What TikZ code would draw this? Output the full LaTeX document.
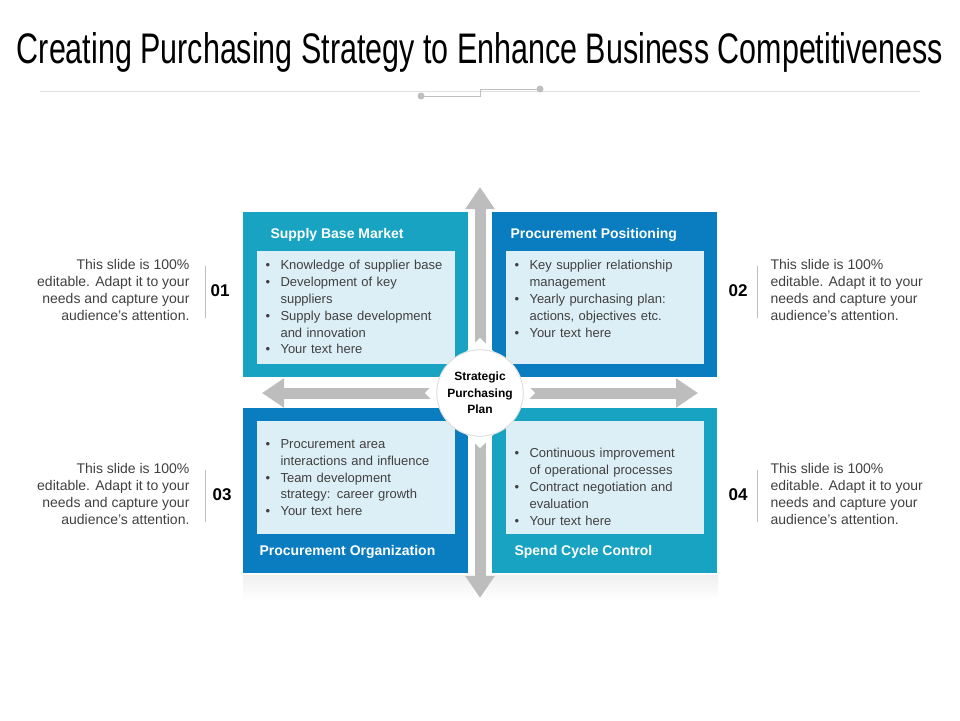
\documentclass[tikz,border=0pt]{standalone}
\usepackage{fontspec}
\setmainfont{Liberation Sans}
\usetikzlibrary{arrows.meta}
\definecolor{teal1}{HTML}{17A3C1}
\definecolor{blue1}{HTML}{0A7DC0}
\definecolor{pale}{HTML}{DDEFF6}
\definecolor{arr}{HTML}{BDBDBD}
\begin{document}
\begin{tikzpicture}[x=1pt,y=-1pt,
  quad/.style={minimum width=225pt,minimum height=165pt,anchor=north west,inner sep=0},
  inner/.style={fill=pale,minimum width=198pt,minimum height=113pt,anchor=north west,inner sep=0},
  hdr/.style={text=white,font=\fontsize{14}{16}\selectfont\bfseries,anchor=west},
  body/.style={font=\fontsize{13}{16.8}\selectfont,text=black!75,anchor=north west,text width=195pt,align=left},
  side/.style={font=\fontsize{14}{17}\selectfont,text=black!75},
  num/.style={font=\fontsize{17}{20}\selectfont\bfseries},
  sep/.style={draw=black!25,line width=0.6pt},
  fat/.style={draw=arr,line width=11pt,-{Triangle[length=22pt,width=28pt]},shorten >=0pt}]
\useasboundingbox (0,0) rectangle (960,720);
\node[inner sep=0] (title) at (480,52) {\resizebox{926pt}{31pt}{Creating Purchasing Strategy to Enhance Business Competitiveness}};
\draw[black!12,line width=0.6pt] (40,91) -- (920,91);
\draw[black!25,line width=0.8pt] (421,96) -- (480,96) -- (480,89) -- (540,89);
\fill[black!25] (421,96) circle (3.5) (540,89) circle (3.5);
% shadow
\shade[top color=black!6,bottom color=white] (243,575) rectangle (718,600);
% quadrants
\node[quad,fill=teal1] (q1) at (243,212) {};
\node[quad,fill=blue1] (q2) at (492,212) {};
\node[quad,fill=blue1] (q3) at (243,408) {};
\node[quad,fill=teal1] (q4) at (492,408) {};
\node[inner] (i1) at (257,251) {};
\node[inner] (i2) at (506,251) {};
\node[inner] (i3) at (257,421) {};
\node[inner] (i4) at (506,421) {};
\node[hdr] (h1) at (267,235) {Supply Base Market};
\node[hdr] (h2) at (507,235) {Procurement Positioning};
\node[hdr] (h3) at (256,552) {Procurement Organization};
\node[hdr] (h4) at (511,552) {Spend Cycle Control};
\def\bl#1{\makebox[15pt][l]{\textbullet}#1\par}
\def\bc#1{\hspace*{15pt}#1\par}
\node[body] (t1) at (262,257) {\bl{Knowledge of supplier base}\bl{Development of key}\bc{suppliers}\bl{Supply base development}\bc{and innovation}\bl{Your text here}};
\node[body] (t2) at (511,257) {\bl{Key supplier relationship}\bc{management}\bl{Yearly purchasing plan:}\bc{actions, objectives etc.}\bl{Your text here}};
\node[body] (t3) at (262,436) {\bl{Procurement area}\bc{interactions and influence}\bl{Team development}\bc{strategy: career growth}\bl{Your text here}};
\node[body] (t4) at (511,445) {\bl{Continuous improvement}\bc{of operational processes}\bl{Contract negotiation and}\bc{evaluation}\bl{Your text here}};
% arrows
\fill[white] (474,187) rectangle (486,598);
\fill[white] (262,387) rectangle (698,399);
\coordinate (c) at (480,393);
\coordinate (n) at (480,187);\coordinate (s) at (480,598);
\coordinate (w) at (262,393);\coordinate (e) at (698,393);
\draw[fat] (c) -- (n); \draw[fat] (c) -- (s);
\draw[fat] (c) -- (w); \draw[fat] (c) -- (e);
% centre
\node[fill=white,rotate=45,minimum size=78pt,inner sep=0] (dia) at (c) {};
\node[circle,fill=white,draw=black!12,line width=1pt,minimum size=80pt,align=center,
 font=\fontsize{12}{16.5}\selectfont\bfseries] (ctr) at (c) {Strategic\\Purchasing\\Plan};
% sides
\node[side,align=right,anchor=north east] (s1) at (193,256) {This slide is 100\%\\editable. Adapt it to your\\needs and capture your\\audience's attention.};
\node[side,align=right,anchor=north east] (s3) at (193,460) {This slide is 100\%\\editable. Adapt it to your\\needs and capture your\\audience's attention.};
\node[side,align=left,anchor=north west] (s2) at (767,256) {This slide is 100\%\\editable. Adapt it to your\\needs and capture your\\audience's attention.};
\node[side,align=left,anchor=north west] (s4) at (767,460) {This slide is 100\%\\editable. Adapt it to your\\needs and capture your\\audience's attention.};
\node[num] (n1) at (220,291) {01};
\node[num] (n2) at (738,291) {02};
\node[num] (n3) at (222,495) {03};
\node[num] (n4) at (738,495) {04};
\draw[sep] (205,266) -- (205,318); \draw[sep] (757,266) -- (757,318);
\draw[sep] (205,470) -- (205,522); \draw[sep] (757,470) -- (757,522);
\end{tikzpicture}
\end{document}
